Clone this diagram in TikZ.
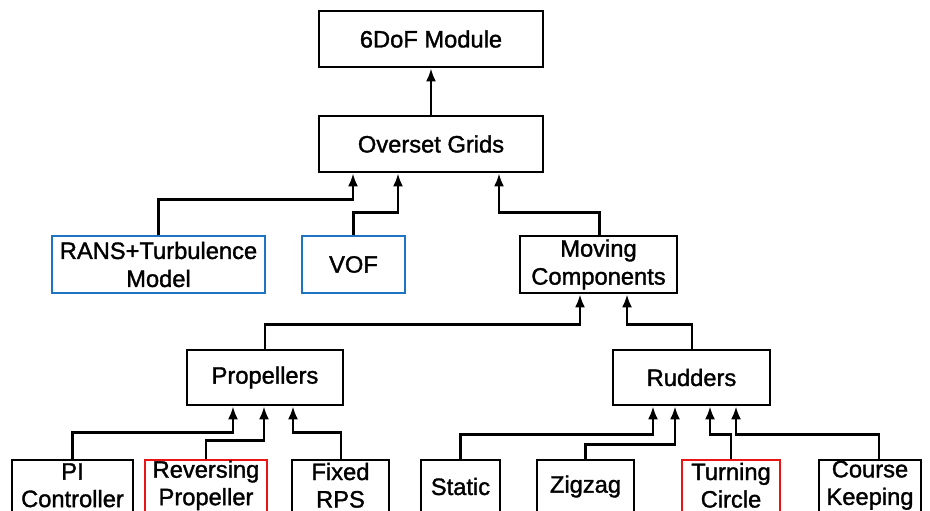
\documentclass[tikz,border=0pt]{standalone}
\usepackage{fontspec}
\setmainfont{Liberation Sans}
\newfontfamily\boxfont{Liberation Sans}[FakeBold=1.4]
\usetikzlibrary{arrows.meta,calc}
\definecolor{boxblue}{RGB}{30,115,195}
\definecolor{boxred}{RGB}{235,20,20}
\tikzset{
  box/.style={draw=black,line width=2.6pt,fill=white,inner sep=0pt,align=center,
    font=\boxfont\fontsize{23.7}{28}\selectfont},
  bluebox/.style={box,draw=boxblue},
  redbox/.style={box,draw=boxred},
  lbl/.style={inner sep=0pt,align=center,font=\boxfont\fontsize{23.7}{27.5}\selectfont,yshift=1.2pt},
  arr/.style={line width=2.6pt,-{Latex[length=13pt,width=10pt]}},
}
\begin{document}
\begin{tikzpicture}[x=1pt,y=-1pt]
\useasboundingbox (0,0) rectangle (930,511);
\clip (0,0) rectangle (930,511);
% nodes
\node[box,minimum width=224pt,minimum height=56pt] (sixdof) at (431,39) {6DoF Module};
\node[box,minimum width=224pt,minimum height=56pt] (overset) at (431,144) {Overset Grids};
\node[bluebox,minimum width=213pt,minimum height=57pt] (rans) at (158.5,264.5) {RANS+Turbulence\\Model};
\node[bluebox,minimum width=103pt,minimum height=57pt] (vof) at (353.5,264.5) {VOF};
\node[box,minimum width=157pt,minimum height=57pt] (moving) at (598.5,264.5) {Moving\\Components};
\node[box,minimum width=156pt,minimum height=55pt] (prop) at (265,377.5) {Propellers};
\node[box,minimum width=157pt,minimum height=55pt] (rudd) at (691.5,377.5) {Rudders};
\node[box,minimum width=121pt,minimum height=53pt,label={[lbl]center:{PI\\Controller}}] (pi) at (72.5,486.5) {};
\node[redbox,minimum width=122pt,minimum height=53pt,label={[lbl]center:{Reversing\\Propeller}}] (rev) at (206,486.5) {};
\node[box,minimum width=97pt,minimum height=53pt,label={[lbl]center:{Fixed\\RPS}}] (fixed) at (340.5,486.5) {};
\node[box,minimum width=79pt,minimum height=53pt] (static) at (460.5,486.5) {Static};
\node[box,minimum width=97pt,minimum height=53pt] (zig) at (585.5,486.5) {Zigzag};
\node[redbox,minimum width=98pt,minimum height=53pt,label={[lbl]center:{Turning\\Circle}}] (turn) at (731,486.5) {};
\node[box,minimum width=102pt,minimum height=53pt,label={[lbl]center:{Course\\Keeping}}] (course) at (870,486.5) {};
% connectors
\draw[arr] (overset.north) -- (sixdof.south);
\draw[arr] (rans.north) |- ($(overset.south)+(-78,26)$) -- ($(overset.south)+(-78,0)$);
\draw[arr] (vof.north) |- ($(overset.south)+(-33,39)$) -- ($(overset.south)+(-33,0)$);
\draw[arr] ($(moving.north)+(1,0)$) |- ($(overset.south)+(68,39)$) -- ($(overset.south)+(68,0)$);
\draw[arr] (prop.north) |- ($(moving.south)+(-18.5,30)$) -- ($(moving.south)+(-18.5,0)$);
\draw[arr] ($(rudd.north)+(0.5,0)$) |- ($(moving.south)+(28.5,30)$) -- ($(moving.south)+(28.5,0)$);
\draw[arr] (pi.north) |- ($(prop.south)+(-32,26)$) -- ($(prop.south)+(-32,0)$);
\draw[arr] (rev.north) |- ($(prop.south)+(-1,34)$) -- ($(prop.south)+(-1,0)$);
\draw[arr] ($(fixed.north)+(0.5,0)$) |- ($(prop.south)+(28,26)$) -- ($(prop.south)+(28,0)$);
\draw[arr] (static.north) |- ($(rudd.south)+(-38.5,28)$) -- ($(rudd.south)+(-38.5,0)$);
\draw[arr] (zig.north) |- ($(rudd.south)+(-16.5,38)$) -- ($(rudd.south)+(-16.5,0)$);
\draw[arr] (turn.north) |- ($(rudd.south)+(18.5,28)$) -- ($(rudd.south)+(18.5,0)$);
\draw[arr] ($(course.north)+(9,0)$) |- ($(rudd.south)+(44.5,28)$) -- ($(rudd.south)+(44.5,0)$);
\end{tikzpicture}
\end{document}
